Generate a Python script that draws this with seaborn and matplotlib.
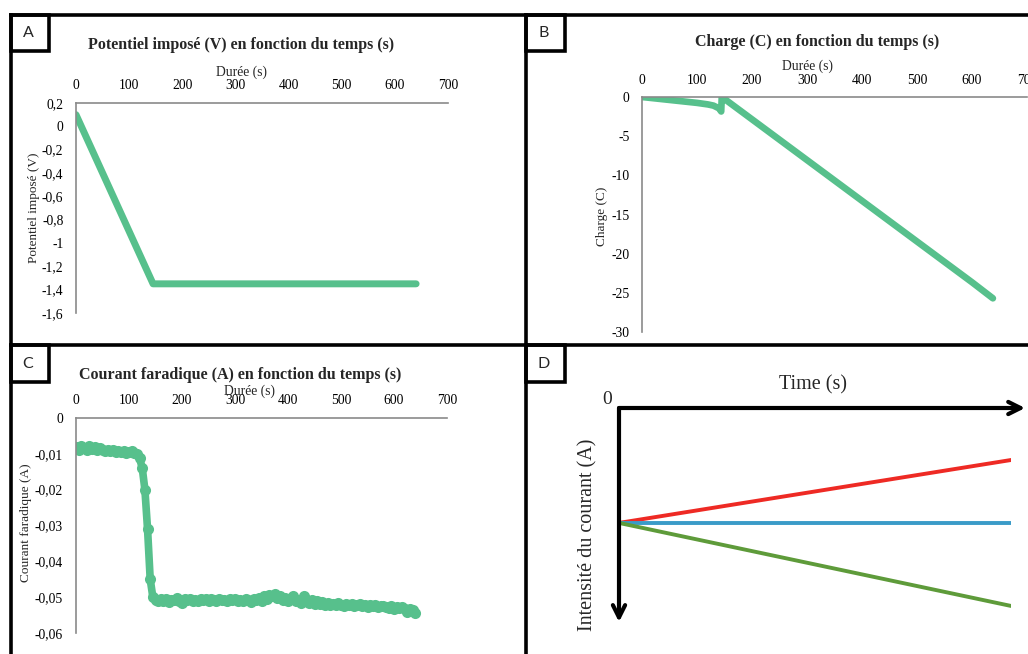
import numpy as np
import matplotlib
matplotlib.use("Agg")
import matplotlib.pyplot as plt
from matplotlib.patches import Rectangle
from matplotlib.lines import Line2D
import seaborn as sns

# ---------------- data ----------------
a_time = [0, 145, 640]
a_potential = [0.10, -1.35, -1.35]

b_time = [0, 20, 40, 60, 80, 100, 120, 130, 140, 144, 145, 150, 200, 300, 400, 500, 600, 638]
b_charge = [0.0, -0.15, -0.30, -0.45, -0.60, -0.75, -0.95, -1.10, -1.45, -1.85,
            0.0, -0.25, -2.85, -8.05, -13.25, -18.45, -23.65, -25.70]

c_time = list(range(0, 645, 5))
c_current = [
    -0.0080, -0.0089, -0.0077, -0.0084, -0.0088, -0.0079, -0.0086, -0.0081, -0.0090, -0.0083,
    -0.0088, -0.0092, -0.0088, -0.0093, -0.0090, -0.0095, -0.0091, -0.0096, -0.0093, -0.0098,
    -0.0094, -0.0091, -0.0097,
    -0.0100, -0.0112, -0.0140, -0.0200, -0.0310, -0.0450, -0.0500, -0.0508,
    -0.0512, -0.0506, -0.0510, -0.0504, -0.0513, -0.0507, -0.0509, -0.0503, -0.0511, -0.0516,
    -0.0506, -0.0509, -0.0505, -0.0510, -0.0507, -0.0512, -0.0504, -0.0509, -0.0506, -0.0511,
    -0.0505, -0.0508, -0.0510, -0.0504, -0.0509, -0.0507, -0.0512, -0.0506, -0.0509, -0.0505,
    -0.0511, -0.0507, -0.0510, -0.0504, -0.0508, -0.0513, -0.0506, -0.0509,
    -0.0502, -0.0512, -0.0496, -0.0505, -0.0493, -0.0498, -0.0492, -0.0503, -0.0497, -0.0508,
    -0.0501, -0.0510,
    -0.0506, -0.0496, -0.0512, -0.0508, -0.0515, -0.0497, -0.0510, -0.0516, -0.0509, -0.0518,
    -0.0512, -0.0519,
    -0.0514, -0.0521, -0.0517, -0.0522, -0.0518, -0.0523, -0.0516, -0.0521, -0.0524, -0.0519,
    -0.0522, -0.0520, -0.0525, -0.0521, -0.0518, -0.0524, -0.0522, -0.0527, -0.0523, -0.0526,
    -0.0521, -0.0528, -0.0524, -0.0526,
    -0.0527, -0.0530, -0.0525, -0.0532, -0.0528, -0.0531, -0.0527, -0.0534, -0.0540, -0.0533,
    -0.0537, -0.0543,
]

d_time = [0, 1]
d_red = [0.537, 0.243]
d_blue = [0.537, 0.537]
d_green = [0.537, 0.925]

x_ticks = [0, 100, 200, 300, 400, 500, 600, 700]
a_yticks = [0.2, 0, -0.2, -0.4, -0.6, -0.8, -1.0, -1.2, -1.4, -1.6]
a_ylabels = ["0,2", "0", "-0,2", "-0,4", "-0,6", "-0,8", "-1", "-1,2", "-1,4", "-1,6"]
b_yticks = [0, -5, -10, -15, -20, -25, -30]
b_ylabels = ["0", "-5", "-10", "-15", "-20", "-25", "-30"]
c_yticks = [0, -0.01, -0.02, -0.03, -0.04, -0.05, -0.06]
c_ylabels = ["0", "-0,01", "-0,02", "-0,03", "-0,04", "-0,05", "-0,06"]

# ---------------- style ----------------
sns.set_theme(style="white")
plt.rcParams["font.family"] = ["Liberation Serif", "DejaVu Serif"]

GREEN = "#57C08C"
W, H = 1028, 654
fig = plt.figure(figsize=(W / 100, H / 100), dpi=100)


def box(x0, y0, x1, y1):
    return [x0 / W, 1 - y1 / H, (x1 - x0) / W, (y1 - y0) / H]


def fx(px):
    return px / W


def fy(py):
    return 1 - py / H


def style(ax, ylim, yticks, ylabels, xpad, ypad):
    ax.set_facecolor("none")
    ax.set_xlim(0, 700)
    ax.set_ylim(*ylim)
    ax.xaxis.tick_top()
    ax.set_xticks(x_ticks)
    ax.set_xticklabels([str(t) for t in x_ticks])
    ax.set_yticks(yticks)
    ax.set_yticklabels(ylabels)
    ax.tick_params(axis="x", length=0, labelsize=9.8, pad=xpad, colors="black")
    ax.tick_params(axis="y", length=0, labelsize=9.8, pad=ypad, colors="black")
    for s in ["bottom", "right"]:
        ax.spines[s].set_visible(False)
    for s in ["top", "left"]:
        ax.spines[s].set_visible(True)
        ax.spines[s].set_color("#8a8a8a")
        ax.spines[s].set_linewidth(1.2)
    ax.set_xlabel("")
    ax.set_ylabel("")


# Panel A
axA = fig.add_axes(box(76, 103, 448, 313))
sns.lineplot(x=a_time, y=a_potential, ax=axA, color=GREEN, linewidth=5,
             estimator=None, sort=False, solid_capstyle="round", solid_joinstyle="round")
style(axA, (-1.6, 0.2), a_yticks, a_ylabels, 8, 9)

# Panel B
axB = fig.add_axes(box(642, 97, 1027, 332))
sns.lineplot(x=b_time, y=b_charge, ax=axB, color=GREEN, linewidth=4.8,
             estimator=None, sort=False, solid_capstyle="round", solid_joinstyle="round")
style(axB, (-30, 0), b_yticks, b_ylabels, 7, 9)
for lab in axB.get_xticklabels():
    lab.set_clip_on(False)

# Panel C
axC = fig.add_axes(box(76, 418, 447, 633))
sns.lineplot(x=c_time, y=c_current, ax=axC, color=GREEN, linewidth=5.5,
             estimator=None, sort=False, marker="o", markersize=8,
             markeredgewidth=0, solid_capstyle="round", solid_joinstyle="round")
style(axC, (-0.06, 0), c_yticks, c_ylabels, 8, 9.5)

# Panel D
axD = fig.add_axes(box(619, 408, 1011, 622))
sns.lineplot(x=d_time, y=d_red, ax=axD, color="#EE2A24", linewidth=2.8, estimator=None)
sns.lineplot(x=d_time, y=d_blue, ax=axD, color="#3A9BC8", linewidth=2.8, estimator=None)
sns.lineplot(x=d_time, y=d_green, ax=axD, color="#5E9B3A", linewidth=2.8, estimator=None)
axD.set_xlim(0, 1)
axD.set_ylim(1, 0)
axD.axis("off")
axD.annotate("", xy=(1.036, 0), xytext=(0, 0), xycoords="data",
             arrowprops=dict(arrowstyle="->", lw=3, color="black", mutation_scale=22,
                             shrinkA=0, shrinkB=0), annotation_clip=False)
axD.annotate("", xy=(0, 1.0), xytext=(0, 0), xycoords="data",
             arrowprops=dict(arrowstyle="->", lw=3, color="black", mutation_scale=22,
                             shrinkA=0, shrinkB=0), annotation_clip=False)

# ---------------- texts ----------------
fig.text(fx(241), fy(45), "Potentiel imposé (V) en fonction du temps (s)", ha="center",
         va="center", fontsize=11.5, fontweight="bold")
fig.text(fx(817), fy(42), "Charge (C) en fonction du temps (s)", ha="center",
         va="center", fontsize=11.5, fontweight="bold")
fig.text(fx(240), fy(375), "Courant faradique (A) en fonction du temps (s)", ha="center",
         va="center", fontsize=11.5, fontweight="bold")

fig.text(fx(242), fy(72), "Durée (s)", ha="center", va="center", fontsize=9.8)
fig.text(fx(807), fy(66), "Durée (s)", ha="center", va="center", fontsize=9.8)
fig.text(fx(249), fy(391), "Durée (s)", ha="center", va="center", fontsize=9.8)

fig.text(fx(33.5), fy(208), "Potentiel imposé (V)", ha="center", va="center",
         rotation=90, fontsize=9.5)
fig.text(fx(602), fy(216), "Charge (C)", ha="center", va="center", rotation=90, fontsize=9.5)
fig.text(fx(26), fy(523), "Courant faradique (A)", ha="center", va="center",
         rotation=90, fontsize=9.5)

fig.text(fx(607), fy(400), "0", ha="center", va="center", fontsize=14)
fig.text(fx(813), fy(385), "Time (s)", ha="center", va="center", fontsize=14.5)
fig.text(fx(588), fy(535), "Intensité du courant (A)", ha="center", va="center",
         rotation=90, fontsize=14.5)

# ---------------- frame & panel labels ----------------
LW = 2.6
frame = [
    ((11, 11), (15, 654)),
    ((11, 1028), (15, 15)),
    ((526, 526), (15, 654)),
    ((11, 1028), (345, 345)),
]
for xs, ys in frame:
    fig.add_artist(Line2D([fx(x) for x in xs], [fy(y) for y in ys], color="black",
                          linewidth=LW, solid_capstyle="projecting"))

panel_boxes = [("A", 11, 15, 49, 51), ("B", 526, 15, 565, 51),
               ("C", 11, 345, 49, 382), ("D", 526, 345, 565, 382)]
for letter, x0, y0, x1, y1 in panel_boxes:
    fig.add_artist(Rectangle((fx(x0), fy(y1)), fx(x1) - fx(x0), fy(y0) - fy(y1),
                             fill=False, edgecolor="black", linewidth=LW,
                             transform=fig.transFigure))
    fig.text(fx((x0 + x1) / 2 - 2), fy((y0 + y1) / 2), letter, ha="center", va="center",
             fontsize=11.5, family=["Lato", "DejaVu Sans"])

fig.savefig("out.png", dpi=100)
